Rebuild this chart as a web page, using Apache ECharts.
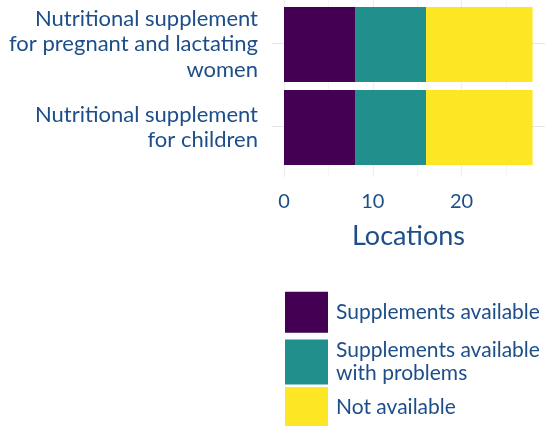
<!DOCTYPE html>
<html>
<head>
<meta charset="utf-8">
<script src="https://cdn.jsdelivr.net/npm/echarts@6/dist/echarts.min.js"></script>
<style>html,body{margin:0;padding:0;background:#fff}#c{width:545px;height:426px}</style>
</head>
<body>
<div id="c"></div>
<script>
const categories = ['Nutritional supplement\nfor children', 'Nutritional supplement\nfor pregnant and lactating\nwomen'];
const seriesNames = ['Supplements available', 'Supplements available\nwith problems', 'Not available'];
const available = [8, 8];
const availableWithProblems = [8, 8];
const notAvailable = [12, 12];
const xTickValues = [0, 10, 20];
const xTitle = 'Locations';

const FONT = 'Lato';
const TXT = '#1d4e89';
const colors = ['#440154', '#21908C', '#FDE725'];
const XMAX = 29.4;

const chart = echarts.init(document.getElementById('c'), null, {renderer: 'canvas'});
const legendCommon = {
  orient: 'vertical', left: 285, padding: 0, icon: 'rect', itemWidth: 43,
  selectedMode: false,
  textStyle: {fontFamily: FONT, fontSize: 21, color: TXT, lineHeight: 23, padding: [4, 0, 0, 3]}
};
chart.setOption({
  animation: false,
  color: colors,
  grid: [
    {left: 284, right: 0, top: 0, bottom: 249},
    {left: 284, right: 0, top: 2.8, height: 166.4},
    {left: 271.6, right: 0, top: 43.3, bottom: 216}
  ],
  xAxis: [
    {gridIndex: 0, type: 'value', min: 0, max: XMAX, interval: 10,
     axisLine: {show: false}, axisTick: {show: false},
     axisLabel: {showMaxLabel: false, margin: 15, fontFamily: FONT, fontSize: 20, color: TXT,
       formatter: v => xTickValues.indexOf(v) >= 0 ? String(v) : ''},
     splitLine: {show: true, showMaxLine: false, lineStyle: {color: '#e6e6e6', width: 1.2}},
     name: xTitle, nameLocation: 'middle', nameGap: 46,
     nameTextStyle: {fontFamily: FONT, fontSize: 27, color: TXT, padding: [0, 12, 0, 0]}},
    {gridIndex: 0, type: 'value', min: 0, max: XMAX, interval: 5, position: 'top',
     axisLine: {show: false}, axisTick: {show: false}, axisLabel: {show: false},
     splitLine: {show: true, showMaxLine: false, lineStyle: {color: '#f0f0f0', width: 0.7}}},
    {gridIndex: 1, type: 'value', min: 0, max: XMAX, show: false},
    {gridIndex: 2, type: 'value', min: 0, max: 1, show: false}
  ],
  yAxis: [
    {gridIndex: 0, type: 'value', min: 0, max: 1, show: false},
    {gridIndex: 1, type: 'category', data: categories,
     axisLine: {show: false}, axisTick: {show: false}, splitLine: {show: false},
     axisLabel: {margin: 26, fontFamily: FONT, fontSize: 22, color: TXT, lineHeight: 25.5, align: 'right'}},
    {gridIndex: 2, type: 'value', min: 0, max: 2, interval: 1,
     axisLine: {show: false}, axisTick: {show: false}, axisLabel: {show: false},
     splitLine: {show: true, showMinLine: false, lineStyle: {color: '#e6e6e6', width: 1.2}}}
  ],
  legend: [
    Object.assign({}, legendCommon, {top: 291.7, itemHeight: 41, data: [seriesNames[0]]}),
    Object.assign({}, legendCommon, {top: 337, itemHeight: 45, data: [seriesNames[1]]}),
    Object.assign({}, legendCommon, {top: 387, itemHeight: 41, data: [seriesNames[2]]})
  ],
  series: [
    {name: seriesNames[0], type: 'bar', stack: 's', xAxisIndex: 2, yAxisIndex: 1, barWidth: 75, data: available},
    {name: seriesNames[1], type: 'bar', stack: 's', xAxisIndex: 2, yAxisIndex: 1, barWidth: 75, data: availableWithProblems},
    {name: seriesNames[2], type: 'bar', stack: 's', xAxisIndex: 2, yAxisIndex: 1, barWidth: 75, data: notAvailable}
  ]
});
</script>
</body>
</html>
